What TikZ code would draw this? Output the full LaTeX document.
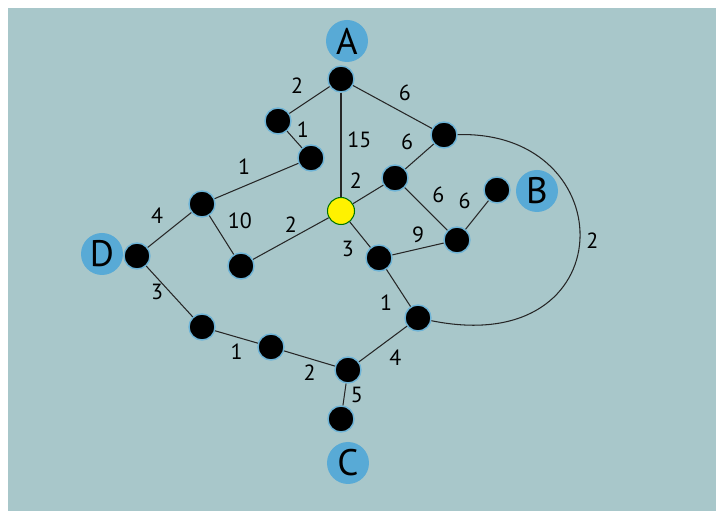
\documentclass[tikz,border=0pt]{standalone}
\usepackage{fontspec}
\setmainfont{PT Sans}
\usepackage{tikz}
\definecolor{mapbg}{RGB}{168,199,202}
\definecolor{tagblue}{RGB}{88,170,214}
\definecolor{glow}{RGB}{110,180,215}

\begin{document}
\begin{tikzpicture}[x=0.02cm, y=-0.02cm, auto, font=\fontsize{12.5}{14}\selectfont,
		node_style/.style={circle,draw=glow,line width=0.8pt,fill=black,minimum size=0.52cm,inner sep=0pt},
		hub_style/.style={circle,draw=green!45!black,line width=0.6pt,fill=yellow,minimum size=0.54cm,inner sep=0pt},
		tag_style/.style={circle,fill=tagblue,minimum size=0.84cm,inner sep=0pt,font=\fontsize{21}{24}\selectfont},
		edge_style/.style={draw=black!85,line width=0.6pt}]

		% background
		\useasboundingbox (0,0) rectangle (724,519);
		\fill[white] (0,0) rectangle (724,519);
		\fill[mapbg] (8,8) rectangle (716,511);

		\node[node_style] (n0) at (341,79) {};
		\node[node_style] (n1) at (278,121) {};
		\node[node_style] (n2) at (311,158) {};
		\node[hub_style] (n3) at (341,211) {};
		\node[node_style] (n4) at (444,135) {};
		\node[node_style] (n5) at (395,178) {};
		\node[node_style] (n6) at (497,190) {};
		\node[node_style] (n7) at (457,240) {};
		\node[node_style] (n8) at (379,258) {};
		\node[node_style] (n9) at (418,318) {};
		\node[node_style] (n10) at (202,204) {};
		\node[node_style] (n11) at (241,266) {};
		\node[node_style] (n12) at (137,256) {};
		\node[node_style] (n13) at (202,327) {};
		\node[node_style] (n14) at (271,347) {};
		\node[node_style] (n15) at (348,370) {};
		\node[node_style] (n16) at (341,419) {};

		\node[tag_style] (tA) at (347,41) {A};
		\node[tag_style] (tB) at (537,191) {B};
		\node[tag_style] (tC) at (348,463) {C};
		\node[tag_style] (tD) at (102,254) {D};

		\draw[edge_style]  (n0) edge node[above left]{2} (n1);
		\draw[edge_style]  (n1) edge node[above right,inner sep=1pt]{1} (n2);
		\draw[edge_style]  (n0) edge node[right,pos=0.45]{15} (n3);
		\draw[edge_style]  (n0) edge node[above right]{6} (n4);
		\draw[edge_style]  (n4) edge node[above left]{6} (n5);
		\draw[edge_style]  (n3) edge node[above left]{2} (n5);
		\draw[edge_style]  (n5) edge node[above right]{6} (n7);
		\draw[edge_style]  (n7) edge node[above left]{6} (n6);
		\draw[edge_style]  (n2) edge node[above left]{1} (n10);
		\draw[edge_style]  (n10) edge node[above left]{4} (n12);
		\draw[edge_style]  (n10) edge node[above right]{10} (n11);
		\draw[edge_style]  (n11) edge node[above]{2} (n3);
		\draw[edge_style]  (n3) edge node[below left]{3} (n8);
		\draw[edge_style]  (n8) edge node[above]{9} (n7);
		\draw[edge_style]  (n8) edge node[below left]{1} (n9);
		\draw[edge_style]  (n12) edge node[left]{3} (n13);
		\draw[edge_style]  (n13) edge node[below]{1} (n14);
		\draw[edge_style]  (n14) edge node[below]{2} (n15);
		\draw[edge_style]  (n9) edge node[below right]{4} (n15);
		\draw[edge_style]  (n15) edge node[right]{5} (n16);
		\draw[edge_style]  (n4) .. controls (625,130) and (625,360) .. node[right]{2} (n9);
\end{tikzpicture}
\end{document}
